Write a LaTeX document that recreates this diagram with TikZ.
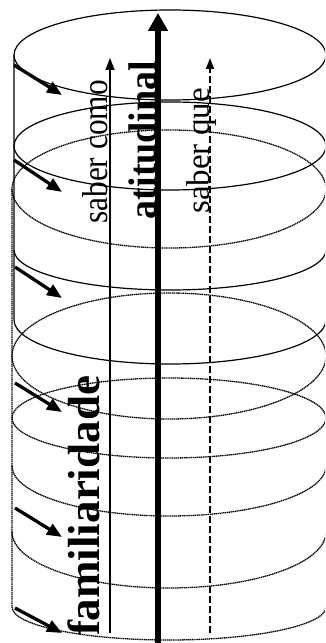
\documentclass[tikz,border=0pt]{standalone}
\usepackage{fontspec}
\setmainfont{Liberation Serif}
\usetikzlibrary{arrows.meta}
\begin{document}
\begin{tikzpicture}[x=1pt,y=1pt,
  disc/.style={line width=1.2pt},
  dotdisc/.style={line width=1.3pt,dash pattern=on 1.3pt off 0.6pt},
  push/.style={-{Triangle[length=15pt,width=12pt]},line width=3.3pt},
  word/.style={rotate=90,anchor=base,inner sep=0pt}]
  \useasboundingbox (0,0) rectangle (325,643);
  \clip (0,0) rectangle (325,643);
  % upper cylinder
  \draw[disc] (170,588) ellipse [x radius=156,y radius=45];
  \draw[disc] (170,497) ellipse [x radius=156,y radius=44];
  \draw[disc] (14,393) arc [start angle=180,end angle=360,x radius=156,y radius=40];
  \draw[disc] (14,588) -- (14,323) arc [start angle=180,end angle=360,x radius=156,y radius=44];
  % lower cylinder
  \draw[dotdisc] (169,454) ellipse [x radius=157,y radius=59];
  \draw[dotdisc] (169,287) ellipse [x radius=157,y radius=63];
  \draw[dotdisc] (169,225) ellipse [x radius=157,y radius=40];
  \draw[dotdisc] (12,177) arc [start angle=180,end angle=360,x radius=157,y radius=50];
  \draw[dotdisc] (12,111) arc [start angle=180,end angle=360,x radius=157,y radius=56];
  \draw[dotdisc] (12,454) -- (12,36) arc [start angle=180,end angle=360,x radius=157,y radius=33];

  \coordinate (in1) at (14,578); \coordinate (to1) at (62,548);
  \coordinate (in2) at (14,483); \coordinate (to2) at (62,451);
  \coordinate (in3) at (15,376); \coordinate (to3) at (62,345);
  \coordinate (in4) at (15,260); \coordinate (to4) at (62,231);
  \coordinate (in5) at (15,135); \coordinate (to5) at (62,106);
  \coordinate (in6) at (15,35);  \coordinate (to6) at (62,10);
  \draw[push] (in1) -- (to1);
  \draw[push] (in2) -- (to2);
  \draw[push] (in3) -- (to3);
  \draw[push] (in4) -- (to4);
  \draw[push] (in5) -- (to5);
  \draw[push] (in6) -- (to6);

  \coordinate (como0) at (110,10);  \coordinate (como1) at (110,585);
  \coordinate (atit0) at (158,0);   \coordinate (atit1) at (158,630);
  \coordinate (que0) at (210,10);   \coordinate (que1) at (210,585);
  \draw[-{Triangle[length=12pt,width=9pt]},line width=1.5pt] (como0) -- (como1);
  \draw[-{Triangle[length=18pt,width=19pt]},line width=6.5pt] (atit0) -- (atit1);
  \draw[-{Triangle[length=11pt,width=8pt]},line width=1.8pt,dash pattern=on 7pt off 3pt] (que0) -- (que1);

  \node[word,font=\fontsize{36}{36}\selectfont] (como) at (107,491) {\scalebox{0.87}[1]{saber como}};
  \node[word,font=\bfseries\fontsize{40}{40}\selectfont] (atit) at (156,503) {\scalebox{0.95}[1]{atitudinal}};
  \node[word,font=\fontsize{33}{33}\selectfont] (que) at (209,492) {saber que};
  \node[word,font=\bfseries\fontsize{45}{45}\selectfont] (fam) at (99,137) {familiaridade};
\end{tikzpicture}
\end{document}
